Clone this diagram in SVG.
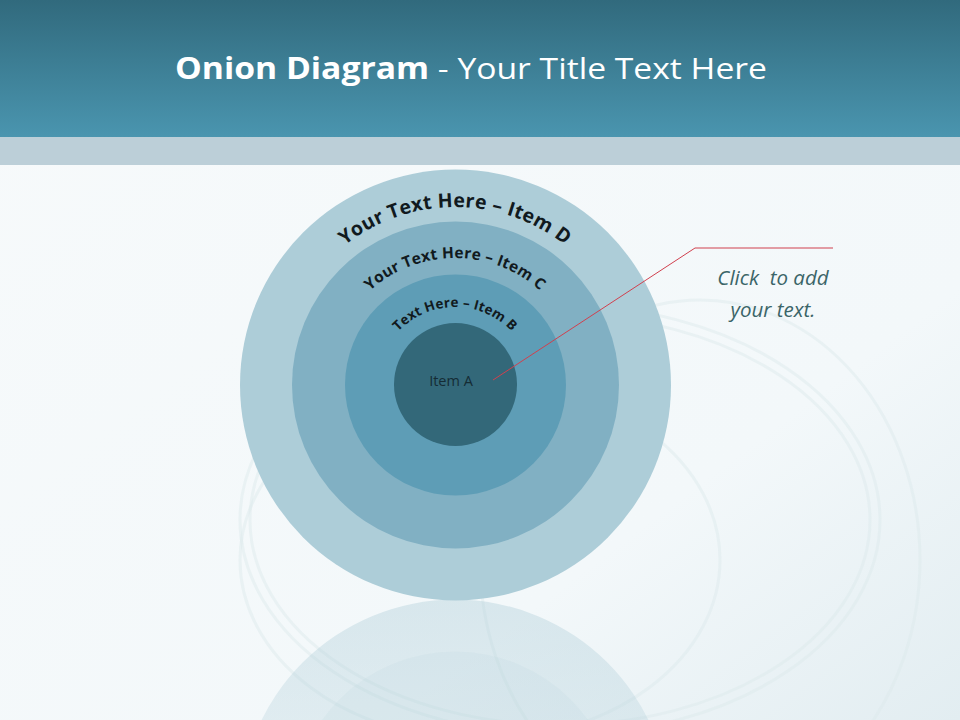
<svg xmlns="http://www.w3.org/2000/svg" width="960" height="720" viewBox="0 0 960 720">
<defs>
<linearGradient id="hdr" x1="0" y1="0" x2="0" y2="1">
<stop offset="0" stop-color="#316a7d"/>
<stop offset="1" stop-color="#4a95af"/>
</linearGradient>
<linearGradient id="bg" x1="0" y1="0" x2="1" y2="1">
<stop offset="0" stop-color="#f7fafb"/>
<stop offset="0.7" stop-color="#f3f8fa"/>
<stop offset="1" stop-color="#e2edf1"/>
</linearGradient>
<linearGradient id="refl" x1="0" y1="0" x2="0" y2="1">
<stop offset="0" stop-color="#aecdd8" stop-opacity="0.4"/>
<stop offset="0.5" stop-color="#aecdd8" stop-opacity="0.2"/>
<stop offset="1" stop-color="#aecdd8" stop-opacity="0.1"/>
</linearGradient>
<path id="arcD" d="M 455 563 A 178 178 0 1 1 455.01 563"/>
<path id="arcC" d="M 455 512 A 127 127 0 1 1 455.01 512"/>
<path id="arcB" d="M 455 463 A 78 78 0 1 1 455.01 463"/>
<style>
.ring{stroke:none}
.arc{font-family:"Open Sans","Liberation Sans",sans-serif;font-weight:bold;fill:#111a1e}
.rip{fill:none;stroke:#dce8ec;stroke-width:3;opacity:0.45}
</style>
</defs>
<rect x="0" y="0" width="960" height="720" fill="url(#bg)"/>
<g id="ripples">
<ellipse class="rip" cx="560" cy="520" rx="320" ry="215"/>
<ellipse class="rip" cx="560" cy="520" rx="310" ry="205" stroke-width="2"/>
<ellipse class="rip" cx="480" cy="560" rx="240" ry="180" stroke-width="2"/>
<ellipse class="rip" cx="700" cy="560" rx="220" ry="260" stroke-width="4"/>
</g>
<rect x="0" y="0" width="960" height="137" fill="url(#hdr)"/>
<rect x="0" y="137" width="960" height="28" fill="#bccfd8"/>
<text x="471" y="79" text-anchor="middle" font-family="Open Sans, Liberation Sans, sans-serif" font-size="30" fill="#ffffff" textLength="592" lengthAdjust="spacingAndGlyphs"><tspan font-weight="bold">Onion Diagram</tspan> - Your Title Text Here</text>
<g id="reflection">
<circle cx="455" cy="815" r="215.5" fill="url(#refl)"/>
<circle cx="455" cy="815" r="163.5" fill="#aecdd8" opacity="0.12"/>
</g>
<g id="itemD"><circle class="ring" cx="455.5" cy="385" r="215.5" fill="#adcdd8"/>
<text class="arc" font-size="19.5" letter-spacing="0.3"><textPath href="#arcD" startOffset="50%" text-anchor="middle">Your Text Here – Item D</textPath></text></g>
<g id="itemC"><circle class="ring" cx="455.5" cy="385" r="163.5" fill="#81b0c3"/>
<text class="arc" font-size="15.5" letter-spacing="0.2"><textPath href="#arcC" startOffset="50%" text-anchor="middle">Your Text Here – Item C</textPath></text></g>
<g id="itemB"><circle class="ring" cx="455.5" cy="385" r="110.5" fill="#5e9db6"/>
<text class="arc" font-size="13.5" letter-spacing="0.2"><textPath href="#arcB" startOffset="50%" text-anchor="middle">Text Here – Item B</textPath></text></g>
<g id="itemA"><circle class="ring" cx="455.5" cy="384.5" r="61.5" fill="#336879"/>
<text x="451" y="386" text-anchor="middle" font-family="Open Sans, Liberation Sans, sans-serif" font-size="14.5" fill="#152c35">Item A</text></g>
<g id="connectors">
<polyline points="493,380 695,248 833,248" fill="none" stroke="#d0404e" stroke-width="1"/>
</g>
<g id="callout">
<text text-anchor="middle" font-family="Open Sans, Liberation Sans, sans-serif" font-style="italic" font-size="20.5" fill="#3b6568" style="white-space:pre"><tspan x="773" y="285">Click  to add</tspan><tspan x="773" y="317">your text.</tspan></text>
</g>
</svg>
